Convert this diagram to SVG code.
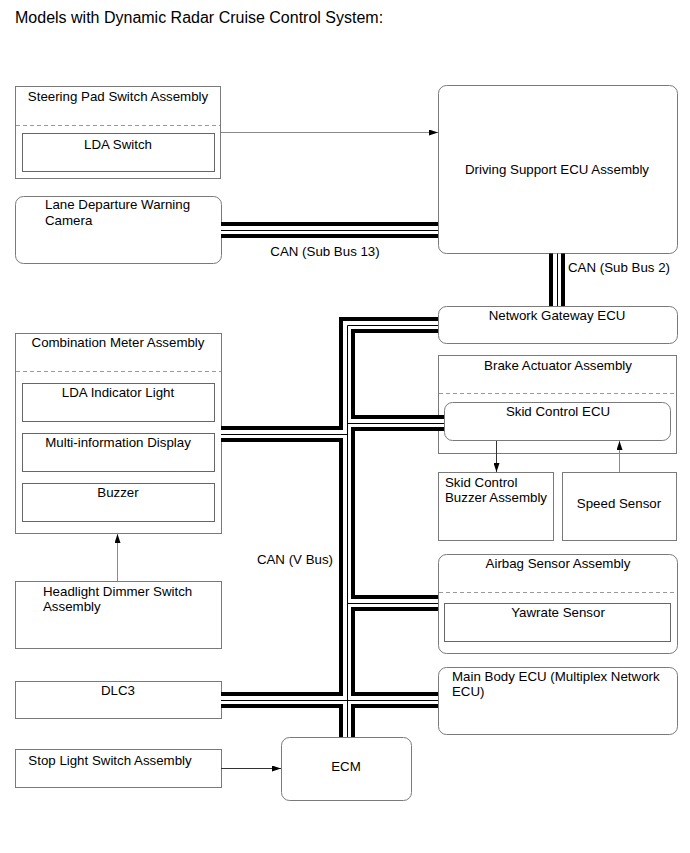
<svg xmlns="http://www.w3.org/2000/svg" width="690" height="853" viewBox="0 0 690 853">
<defs>
<marker id="ah" markerWidth="9" markerHeight="6" refX="9" refY="3" orient="auto" markerUnits="userSpaceOnUse">
<path d="M0,0 L9,3 L0,6 Z" fill="#000"/>
</marker>
<style>
text{font-family:"Liberation Sans",Arial,sans-serif;font-size:13.3px;fill:#000}
.c{text-anchor:middle}
.box{fill:#fff;stroke:#7a7a7a;stroke-width:1}
.in{fill:#fff;stroke:#666;stroke-width:1}
.dash{stroke:#999;stroke-width:1;stroke-dasharray:4,3;fill:none}
.bk{fill:none;stroke:#000;stroke-width:16;stroke-linejoin:miter}
.wh{fill:none;stroke:#fff;stroke-width:8;stroke-linejoin:miter}
.th{fill:none;stroke:#000;stroke-width:1}
.ag{stroke:#8a8a8a;stroke-width:1;fill:none}
.ad{stroke:#333;stroke-width:1;fill:none}
</style>
</defs>
<rect width="690" height="853" fill="#fff"/>
<text x="15" y="23" style="font-size:16px">Models with Dynamic Radar Cruise Control System:</text>

<g id="steering-pad">
<rect class="box" x="15.5" y="86.5" width="205" height="92"/>
<line class="dash" x1="16" y1="125.5" x2="220" y2="125.5"/>
<text class="c" x="118" y="101">Steering Pad Switch Assembly</text>
</g>
<g id="lda-switch">
<rect class="in" x="22.5" y="133.5" width="192" height="38"/>
<text class="c" x="118" y="149">LDA Switch</text>
</g>
<g id="lane-camera">
<rect class="box" x="15.5" y="196.5" width="206" height="67" rx="8"/>
<text x="45" y="209">Lane Departure Warning</text>
<text x="45" y="225">Camera</text>
</g>
<g id="driving-support">
<rect class="box" x="438.5" y="85.5" width="239" height="168" rx="8"/>
<text class="c" x="557" y="174">Driving Support ECU Assembly</text>
</g>
<g id="network-gateway">
<rect class="box" x="438.5" y="306.5" width="239" height="37" rx="8"/>
<text class="c" x="557" y="320">Network Gateway ECU</text>
</g>
<g id="combination-meter">
<rect class="box" x="15.5" y="333.5" width="206" height="200"/>
<line class="dash" x1="16" y1="371.5" x2="221" y2="371.5"/>
<text class="c" x="118" y="347">Combination Meter Assembly</text>
</g>
<g id="lda-indicator">
<rect class="in" x="22.5" y="383.5" width="192" height="38"/>
<text class="c" x="118" y="397">LDA Indicator Light</text>
</g>
<g id="multi-info">
<rect class="in" x="22.5" y="433.5" width="192" height="38"/>
<text class="c" x="118" y="447">Multi-information Display</text>
</g>
<g id="buzzer">
<rect class="in" x="22.5" y="483.5" width="192" height="38"/>
<text class="c" x="118" y="497">Buzzer</text>
</g>
<g id="brake-actuator">
<rect class="box" x="438.5" y="355.5" width="238" height="98"/>
<line class="dash" x1="439" y1="393.5" x2="676" y2="393.5"/>
<text class="c" x="558" y="370">Brake Actuator Assembly</text>
</g>
<g id="skid-control-ecu">
<rect class="box" x="444.5" y="402.5" width="226" height="38" rx="8"/>
<text class="c" x="558" y="416">Skid Control ECU</text>
</g>
<g id="skid-buzzer">
<rect class="box" x="438.5" y="472.5" width="115" height="68"/>
<text x="445" y="487">Skid Control</text>
<text x="445" y="502">Buzzer Assembly</text>
</g>
<g id="speed-sensor">
<rect class="box" x="562.5" y="472.5" width="114" height="68"/>
<text class="c" x="619" y="508">Speed Sensor</text>
</g>
<g id="airbag">
<rect class="box" x="438.5" y="554.5" width="239" height="99" rx="8"/>
<line class="dash" x1="439" y1="592.5" x2="677" y2="592.5"/>
<text class="c" x="558" y="568">Airbag Sensor Assembly</text>
</g>
<g id="yawrate">
<rect class="in" x="444.5" y="603.5" width="226" height="38"/>
<text class="c" x="558" y="617">Yawrate Sensor</text>
</g>
<g id="headlight-dimmer">
<rect class="box" x="15.5" y="581.5" width="206" height="67"/>
<text x="43" y="596">Headlight Dimmer Switch</text>
<text x="43" y="611">Assembly</text>
</g>
<g id="main-body">
<rect class="box" x="438.5" y="667.5" width="239" height="67" rx="8"/>
<text x="452" y="681">Main Body ECU (Multiplex Network</text>
<text x="452" y="696">ECU)</text>
</g>
<g id="dlc3">
<rect class="box" x="15.5" y="681.5" width="206" height="37"/>
<text class="c" x="118" y="695">DLC3</text>
</g>
<g id="stop-light">
<rect class="box" x="15.5" y="749.5" width="206" height="38"/>
<text class="c" x="110" y="765">Stop Light Switch Assembly</text>
</g>
<g id="ecm">
<rect class="box" x="281.5" y="737.5" width="130" height="63" rx="8"/>
<text class="c" x="346" y="771">ECM</text>
</g>

<g id="connectors">
<g class="bk">
<path d="M221,230 H438"/>
<path d="M557,253.5 V306"/>
<path d="M438,325 H347 V737"/>
<path d="M444,423 H347"/>
<path d="M221,434 H347"/>
<path d="M438,603 H347"/>
<path d="M438,700 H347"/>
<path d="M221,700 H347"/>
</g>
<g class="wh">
<path d="M221,230 H438"/>
<path d="M557,253.5 V306"/>
<path d="M438,325 H347 V737"/>
<path d="M444,423 H347"/>
<path d="M221,434 H347"/>
<path d="M438,603 H347"/>
<path d="M438,700 H347"/>
<path d="M221,700 H347"/>
</g>
<g class="th">
<path d="M221,230.5 H438"/>
<path d="M557.5,253.5 V306"/>
<path d="M438,325.5 H347.5 V737"/>
<path d="M444,423.5 H347"/>
<path d="M221,434.5 H347"/>
<path d="M438,603.5 H347"/>
<path d="M438,700.5 H347"/>
<path d="M221,700.5 H347"/>
</g>
<line class="ag" x1="221" y1="132.5" x2="438" y2="132.5" marker-end="url(#ah)"/>
<line class="ag" x1="117.5" y1="581" x2="117.5" y2="534" marker-end="url(#ah)"/>
<line class="ad" x1="496.5" y1="441" x2="496.5" y2="472" marker-end="url(#ah)"/>
<line class="ag" x1="619.5" y1="472" x2="619.5" y2="441" marker-end="url(#ah)"/>
<line class="ad" x1="221" y1="768.5" x2="281" y2="768.5" marker-end="url(#ah)"/>
</g>
<g id="labels">
<text class="c" x="325" y="256">CAN (Sub Bus 13)</text>
<text x="568" y="272">CAN (Sub Bus 2)</text>
<text x="333" y="564" style="text-anchor:end">CAN (V Bus)</text>
</g>
</svg>
